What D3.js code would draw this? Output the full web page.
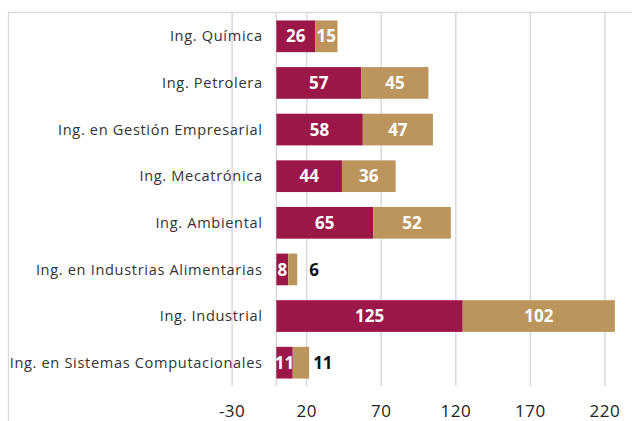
<!DOCTYPE html>
<html>
<head>
<meta charset="utf-8">
<script src="https://cdn.jsdelivr.net/npm/d3@7"></script>
<style>
  body { margin: 0; background: #fff; }
  svg { display: block; }
</style>
</head>
<body>
<div id="chart"></div>
<script>
const categories = [
    'Ing. Química',
    'Ing. Petrolera',
    'Ing. en Gestión Empresarial',
    'Ing. Mecatrónica',
    'Ing. Ambiental',
    'Ing. en Industrias Alimentarias',
    'Ing. Industrial',
    'Ing. en Sistemas Computacionales'
]
const seriesA = [26, 57, 58, 44, 65, 8, 125, 11]
const seriesB = [15, 45, 47, 36, 52, 6, 102, 11]
const tickValues = [-30, 20, 70, 120, 170, 220]

const width = 632
const height = 421
const colorA = '#9b1747'
const colorB = '#bc955c'
const font = '"Open Sans", sans-serif'

const svg = d3.select('#chart').append('svg')
    .attr('width', width)
    .attr('height', height)

// frame (top + left)
svg.append('path')
    .attr('d', 'M8.5,' + height + 'V12.5H' + width)
    .attr('fill', 'none')
    .attr('stroke', '#d9d9d9')
    .attr('stroke-width', 1.3)

const plotTop = 13, plotBottom = 386

const x = d3.scaleLinear()
    .domain([-30, 250])
    .range([231.6, 231.6 + 280 * 1.4912])

const y = d3.scaleBand()
    .domain(categories)
    .range([plotTop, plotBottom])
    .paddingInner(0.32)
    .paddingOuter(0.16)

// grid + tick labels
const axis = svg.append('g')
    .attr('transform', 'translate(0,' + plotBottom + ')')
    .call(d3.axisBottom(x)
        .tickValues(tickValues)
        .tickFormat(d => String(d))
        .tickSize(-(plotBottom - plotTop))
        .tickSizeOuter(0))
axis.select('.domain').remove()
axis.selectAll('.tick line').attr('stroke', '#d9d9d9').attr('stroke-width', 1.5)
axis.selectAll('.tick text')
    .attr('dy', 0)
    .attr('y', 31)
    .attr('fill', '#222')
    .style('font-family', font)
    .style('font-size', '17px')
    .style('letter-spacing', '0.5px')

// zero line
svg.append('line')
    .attr('x1', x(0)).attr('x2', x(0))
    .attr('y1', plotTop).attr('y2', plotBottom)
    .attr('stroke', '#d9d9d9')
    .attr('stroke-width', 1.5)

const rows = categories.map((c, i) => ({cat: c, a: seriesA[i], b: seriesB[i]}))

// category labels
const labels = svg.append('g').selectAll('text')
    .data(rows)
    .enter()
    .append('text')
    .attr('y', d => y(d.cat) + y.bandwidth() / 2)
    .attr('dy', '0.35em')
    .attr('text-anchor', 'end')
    .attr('fill', '#333')
    .style('font-family', font)
    .style('font-size', '14.6px')
    .text(d => d.cat)

// widen the labels to the reference's width with a little letter spacing
const longestNode = labels.nodes().reduce((a, b) => a.getComputedTextLength() > b.getComputedTextLength() ? a : b)
const spacing = Math.max(0, (253 - longestNode.getComputedTextLength()) / longestNode.textContent.length)
labels.style('letter-spacing', spacing + 'px')
    .attr('x', 262 + spacing)

const bars = svg.append('g')

bars.selectAll('.bar-a')
    .data(rows)
    .enter()
    .append('rect')
    .attr('class', 'bar-a')
    .attr('x', x(0))
    .attr('y', d => y(d.cat))
    .attr('width', d => x(d.a) - x(0))
    .attr('height', y.bandwidth())
    .attr('fill', colorA)

bars.selectAll('.bar-b')
    .data(rows)
    .enter()
    .append('rect')
    .attr('class', 'bar-b')
    .attr('x', d => x(d.a))
    .attr('y', d => y(d.cat))
    .attr('width', d => x(d.a + d.b) - x(d.a))
    .attr('height', y.bandwidth())
    .attr('fill', colorB)

// value labels
bars.selectAll('.lab-a')
    .data(rows)
    .enter()
    .append('text')
    .attr('x', d => (x(0) + x(d.a)) / 2)
    .attr('y', d => y(d.cat) + y.bandwidth() / 2)
    .attr('dy', '0.36em')
    .attr('text-anchor', 'middle')
    .attr('fill', '#fff')
    .style('font-family', font)
    .style('font-weight', 700)
    .style('font-size', '17px')
    .text(d => d.a)

bars.selectAll('.lab-b')
    .data(rows)
    .enter()
    .append('text')
    .attr('x', d => d.b > 12 ? (x(d.a) + x(d.a + d.b)) / 2 : Math.max(x(d.a + d.b) + 4, x(22)))
    .attr('y', d => y(d.cat) + y.bandwidth() / 2)
    .attr('dy', '0.36em')
    .attr('text-anchor', d => d.b > 12 ? 'middle' : 'start')
    .attr('fill', d => d.b > 12 ? '#fff' : '#111')
    .style('font-family', font)
    .style('font-weight', 700)
    .style('font-size', '17px')
    .text(d => d.b)
</script>
</body>
</html>
